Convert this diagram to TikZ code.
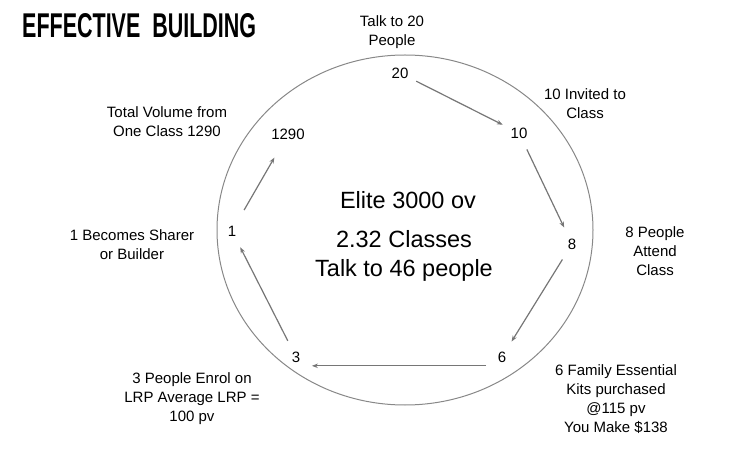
\documentclass[tikz,border=0pt]{standalone}
\usepackage{fontspec}
\setmainfont{Liberation Sans}
\usepackage{graphicx}
\usetikzlibrary{arrows.meta}
\definecolor{edgegray}{HTML}{767676}
\definecolor{ringgray}{HTML}{888888}
\tikzset{
  num/.style={circle,minimum size=36pt,inner sep=0pt,font=\fontsize{15}{19}\selectfont},
  lbl/.style={align=center,inner sep=0pt,font=\fontsize{15}{19}\selectfont},
  mid/.style={align=center,inner sep=0pt,font=\fontsize{23.5}{29.5}\selectfont},
  ge/.style={-{Stealth[length=6pt,width=4.5pt]},edgegray,line width=1.2pt}
}

\begin{document}
\begin{tikzpicture}[x=1pt,y=-1pt]
\useasboundingbox (0,0) rectangle (750,454);
\node[anchor=north west,inner sep=0pt] (title) at (22,13)
  {\resizebox{234pt}{24pt}{\bfseries EFFECTIVE\ \ BUILDING}};
\draw[ringgray,line width=1pt] (405,230) ellipse [x radius=188pt,y radius=175pt];
% numbers round the ring
\node[num] (n20)   at (400,73)  {20};
\node[num] (n10)   at (519,133) {10};
\node[num] (n8)    at (572,244) {8};
\node[num] (n6)    at (502,357) {6};
\node[num] (n3)    at (296,357) {3};
\node[num] (n1)    at (232,231) {1};
\node[num] (n1290) at (288,134) {1290};
% what each step means
\node[lbl] (l20)   at (392,32)  {Talk to 20\\People};
\node[lbl] (l10)   at (585,104) {10 Invited to\\Class};
\node[lbl] (l8)    at (655,251) {8 People\\Attend\\Class};
\node[lbl] (l6)    at (616,399) {6 Family Essential\\Kits purchased\\@115 pv\\You Make \$138};
\node[lbl] (l3)    at (192,399) {3 People Enrol on\\LRP Average LRP =\\100 pv};
\node[lbl] (l1)    at (132,245) {1 Becomes Sharer\\or Builder};
\node[lbl] (l1290) at (167,122) {Total Volume from\\One Class 1290};
% middle
\node[mid] (elite) at (408,200) {Elite 3000 ov};
\node[mid] (cls)   at (404,256) {2.32 Classes\\Talk to 46 people};
\draw[ge] (n20) -- (n10);
\draw[ge] (n10) -- (n8);
\draw[ge] (n8) -- (n6);
\draw[ge] (n6.209) -- (n3.331);
\draw[ge] (n3) -- (n1);
\draw[ge,shorten <=6pt,shorten >=9pt] (n1) -- (n1290);
\end{tikzpicture}
\end{document}
